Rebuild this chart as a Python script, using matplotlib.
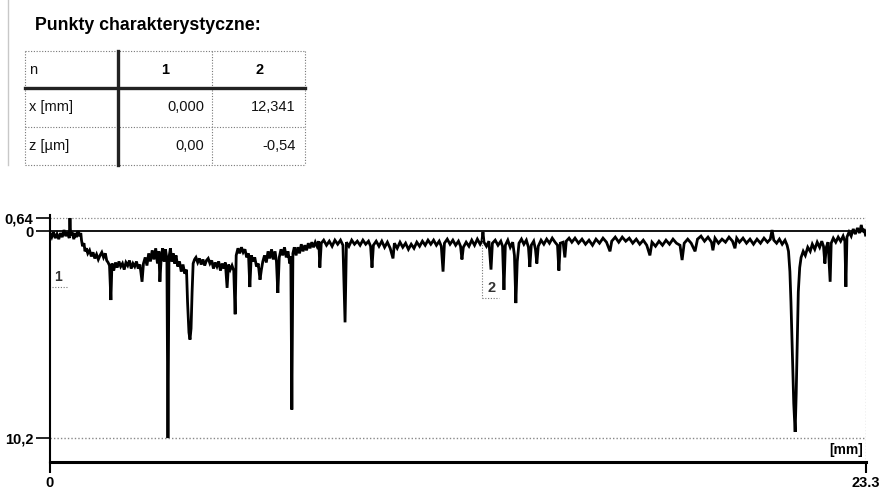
import matplotlib
matplotlib.use("Agg")
import matplotlib.pyplot as plt

plt.rcParams['font.family'] = ['Liberation Sans', 'DejaVu Sans']

# ---------------- data ----------------
title = "Punkty charakterystyczne:"
table_rows = [["n", "1", "2"],
              ["x [mm]", "0,000", "12,341"],
              ["z [µm]", "0,00", "-0,54"]]
point_x = [0.000, 12.341]          # mm
point_labels = ["1", "2"]

x_range = [0.0, 23.3]              # mm
y_ticks = [0.64, 0.0, -10.2]       # µm
y_tick_labels = ["0,64", "0", "10,2"]
x_ticks = [0.0, 23.3]
x_tick_labels = ["0", "23.3"]

# profile (x in mm, z in µm)
prof_x = [
    0.00, 0.05, 0.10, 0.15, 0.20, 0.25, 0.30, 0.35, 0.40, 0.45, 0.50, 0.55, 0.57, 0.59, 0.63, 0.68, 0.72, 0.76, 0.80, 0.84, 0.88, 0.90,
    0.93, 0.97, 1.00, 1.04, 1.08, 1.13, 1.18, 1.23, 1.28, 1.33, 1.38, 1.43, 1.48, 1.53, 1.58, 1.62, 1.66,
    1.70, 1.74, 1.77, 1.82, 1.87, 1.92, 1.97, 2.02, 2.07, 2.12, 2.17, 2.22, 2.27, 2.32, 2.37, 2.42, 2.47, 2.52, 2.57, 2.63, 2.67,
    2.72, 2.77, 2.82, 2.87, 2.92, 2.97, 3.02, 3.07, 3.11, 3.14, 3.18, 3.22, 3.26, 3.30, 3.34, 3.37, 3.40, 3.44, 3.48, 3.52, 3.56, 3.60,
    3.65, 3.70, 3.75, 3.80, 3.85, 3.90, 3.93, 3.97, 4.00, 4.03, 4.06, 4.09, 4.13, 4.17,
    4.22, 4.27, 4.32, 4.37, 4.42, 4.47, 4.52, 4.57, 4.62, 4.67, 4.72, 4.77, 4.82, 4.87, 4.92, 4.97, 5.01, 5.06, 5.10, 5.15,
    5.20, 5.25, 5.29, 5.32, 5.37, 5.42, 5.47, 5.52, 5.57, 5.62, 5.67, 5.71, 5.75, 5.80, 5.85, 5.90, 5.95, 6.00, 6.04, 6.08,
    6.13, 6.18, 6.23, 6.28, 6.33, 6.38, 6.43, 6.47, 6.51, 6.55, 6.60, 6.65, 6.70, 6.75, 6.80, 6.85, 6.88, 6.91, 6.94, 6.98,
    7.03, 7.08, 7.13, 7.18, 7.23, 7.28, 7.33, 7.38, 7.43, 7.48, 7.53, 7.58, 7.63, 7.68, 7.71, 7.75, 7.82, 7.90, 7.98, 8.06,
    8.14, 8.22, 8.30, 8.37, 8.43, 8.47, 8.54, 8.62, 8.70, 8.78, 8.86, 8.94, 9.02, 9.10, 9.16, 9.20, 9.24, 9.32,
    9.40, 9.48, 9.56, 9.64, 9.72, 9.80, 9.84, 9.92, 10.00, 10.08, 10.16, 10.24, 10.32, 10.40, 10.48, 10.56, 10.64, 10.72, 10.80, 10.88,
    10.96, 11.04, 11.12, 11.18, 11.23, 11.27, 11.35, 11.43, 11.51, 11.59, 11.67, 11.73, 11.77, 11.81, 11.89, 11.97, 12.05, 12.13, 12.21, 12.29,
    12.34, 12.37, 12.40, 12.47, 12.54, 12.60, 12.64, 12.72, 12.80, 12.88, 12.93, 12.97, 13.01, 13.08, 13.15, 13.22, 13.27, 13.31, 13.35, 13.40,
    13.47, 13.54, 13.61, 13.67, 13.71, 13.75, 13.82, 13.87, 13.91, 13.95, 14.03, 14.11, 14.19, 14.27, 14.35, 14.43, 14.50, 14.54, 14.58, 14.66,
    14.71, 14.75, 14.83, 14.91,
    15.00, 15.10, 15.20, 15.30, 15.40, 15.50, 15.60, 15.70, 15.80, 15.90, 16.00, 16.05, 16.15, 16.25, 16.35, 16.45, 16.55, 16.65, 16.75, 16.85,
    16.95, 17.05, 17.14, 17.20, 17.30, 17.40, 17.50, 17.60, 17.70, 17.80, 17.90, 18.00, 18.06, 18.12, 18.22, 18.32, 18.43, 18.50, 18.60, 18.70,
    18.80, 18.90, 18.94, 19.00, 19.10, 19.20, 19.30, 19.40, 19.50, 19.57, 19.62, 19.70, 19.80, 19.90, 20.00, 20.10, 20.20, 20.30, 20.40, 20.50,
    20.58, 20.63, 20.68, 20.76, 20.84, 20.92, 21.00, 21.06,
    21.10, 21.14, 21.17, 21.21, 21.25, 21.29, 21.32, 21.35, 21.38, 21.42, 21.46,
    21.52, 21.58, 21.65, 21.72, 21.78, 21.85, 21.92, 21.99, 22.05, 22.10, 22.14, 22.18, 22.23, 22.29, 22.32, 22.38, 22.45, 22.52, 22.59, 22.66,
    22.71, 22.74, 22.77, 22.83, 22.89, 22.95, 23.01, 23.07, 23.13, 23.18, 23.22, 23.26, 23.30,
]
prof_z = [
    -0.10, -0.30, -0.05, -0.35, -0.15, -0.40, -0.10, -0.30, 0.05, -0.25, -0.05, -0.35, 0.64, -0.20, -0.05, -0.40, -0.10, -0.30, 0.00, -0.25, -0.10, -0.45,
    -0.75, -0.60, -1.00, -0.85, -1.10, -0.95, -1.25, -1.05, -1.35, -1.15, -1.40, -1.20, -1.05, -1.30, -1.10, -1.45, -1.55,
    -1.70, -3.40, -1.60, -1.95, -1.55, -1.80, -1.50, -1.75, -1.60, -1.90, -1.55, -1.70, -1.45, -1.85, -1.60, -1.75, -1.50, -1.85, -1.65, -2.50, -1.60,
    -1.30, -1.70, -1.10, -1.50, -0.95, -1.40, -0.85, -1.60, -1.00, -2.50, -1.20, -0.85, -1.50, -0.90, -1.40, -10.20, -1.30, -0.85, -1.50, -1.10, -1.60, -1.20,
    -1.75, -1.50, -2.00, -1.65, -2.10, -1.90, -3.50, -5.00, -5.35, -4.80, -3.00, -1.60, -1.40, -1.30,
    -1.55, -1.35, -1.65, -1.40, -1.70, -1.45, -1.35, -1.60, -1.45, -1.85, -1.55, -1.75, -1.50, -1.95, -1.60, -1.85, -1.55, -2.80, -1.65, -1.90,
    -1.70, -1.95, -4.10, -1.20, -0.85, -1.10, -0.80, -1.05, -0.90, -1.30, -1.10, -2.76, -1.20, -1.50, -1.30, -1.75, -1.60, -2.40, -1.90, -1.50,
    -1.20, -1.55, -1.00, -1.35, -0.90, -1.40, -1.00, -1.50, -3.05, -1.30, -0.90, -1.20, -0.80, -1.30, -1.00, -1.60, -1.25, -8.80, -1.10, -0.80,
    -1.20, -0.80, -1.10, -0.65, -1.00, -0.70, -0.95, -0.60, -0.85, -0.55, -0.80, -0.55, -0.75, -0.50, -1.80, -0.60, -0.45, -0.70, -0.50, -0.75,
    -0.45, -0.65, -0.45, -0.70, -4.50, -0.55, -0.75, -0.45, -0.65, -0.50, -0.70, -0.45, -0.65, -0.50, -0.75, -1.80, -0.70, -0.50,
    -0.75, -0.50, -0.80, -0.55, -0.85, -1.35, -0.60, -0.85, -0.55, -0.80, -0.60, -0.90, -0.65, -0.85, -0.55, -0.75, -0.50, -0.70, -0.45, -0.65,
    -0.45, -0.70, -0.50, -0.75, -2.00, -0.60, -0.40, -0.65, -0.45, -0.70, -0.50, -0.75, -1.40, -0.80, -0.55, -0.75, -0.45, -0.70, -0.40, -0.65,
    -0.50, -0.05, -0.55, -0.75, -0.50, -1.90, -0.60, -0.45, -0.70, -0.50, -0.75, -2.90, -0.70, -0.45, -0.80, -0.55, -1.20, -3.55, -1.50, -0.60,
    -0.40, -0.65, -0.45, -0.80, -1.77, -0.70, -0.50, -0.90, -1.60, -0.75, -0.45, -0.65, -0.40, -0.60, -0.35, -0.55, -0.70, -1.95, -0.60, -0.55,
    -1.30, -0.50, -0.35, -0.55,
    -0.35, -0.60, -0.40, -0.65, -0.45, -0.70, -0.40, -0.60, -0.35, -0.55, -1.00, -0.50, -0.30, -0.55, -0.30, -0.50, -0.35, -0.60, -0.40, -0.65,
    -0.45, -0.70, -1.20, -0.55, -0.75, -0.50, -0.70, -0.45, -0.65, -0.40, -0.60, -0.70, -1.43, -0.60, -0.40, -0.60, -1.00, -0.40, -0.25, -0.50,
    -0.30, -0.55, -0.95, -0.35, -0.60, -0.40, -0.55, -0.30, -0.50, -0.85, -0.35, -0.55, -0.35, -0.60, -0.40, -0.65, -0.40, -0.60, -0.35, -0.55,
    -0.40, 0.05, -0.45, -0.60, -0.40, -0.65, -0.45, -0.70,
    -1.00, -2.00, -3.50, -6.00, -8.50, -9.90, -8.00, -5.50, -3.00, -1.80, -1.30,
    -1.00, -1.20, -0.80, -1.00, -0.65, -0.90, -0.55, -0.80, -0.50, -0.75, -1.60, -0.80, -0.55, -2.50, -0.60, -0.35, -0.55, -0.30, -0.50, -0.25,
    -0.50, -2.75, -0.30, -0.05, -0.25, 0.10, -0.15, 0.15, -0.10, 0.30, -0.05, 0.10, -0.20,
]

# ---------------- figure ----------------
W, H = 884, 491
fig = plt.figure(figsize=(W / 100, H / 100), dpi=100)

# overlay in pixel coordinates for title & table
bg = fig.add_axes([0, 0, 1, 1])
bg.set_xlim(0, W)
bg.set_ylim(H, 0)
bg.axis("off")

bg.plot([8, 8], [0, 165], color="#c8c8c8", lw=1)
bg.text(35, 25, title, fontsize=12.8, fontweight="bold", ha="left", va="center")

tl, tr, tt, tb = 25, 305, 51, 165
c1, c2 = 118, 212
r1, r2 = 88, 127
dot = dict(color="#777777", lw=0.8, ls=(0, (1, 1.5)))
bg.plot([tl, tr], [tt, tt], **dot)
bg.plot([tl, tr], [tb, tb], **dot)
bg.plot([tl, tl], [tt, tb], **dot)
bg.plot([tr, tr], [tt, tb], **dot)
bg.plot([c2, c2], [tt, tb], **dot)
bg.plot([tl, tr], [r2, r2], **dot)
bg.plot([tl, tr], [r1, r1], color="#222222", lw=2.4)
bg.plot([c1, c1], [tt, tb], color="#222222", lw=2.4)

row_y = [70, 107, 146]
for ri, row in enumerate(table_rows):
    y = row_y[ri]
    bg.text(29, y, row[0], fontsize=10.5, ha="left", va="center", color="#111111")
    if ri == 0:
        bg.text(165, y, row[1], fontsize=10.5, fontweight="bold", ha="center", va="center")
        bg.text(260, y, row[2], fontsize=10.5, fontweight="bold", ha="center", va="center")
    else:
        bg.text(204, y, row[1], fontsize=10.5, ha="right", va="center", color="#111111")
        bg.text(296, y, row[2], fontsize=10.5, ha="right", va="center", color="#111111")

# profile axes
y_bottom, y_top = -11.38, 0.79
ax = fig.add_axes([50 / W, (H - 462) / H, (865.5 - 50) / W, 247 / H])
ax.set_facecolor("none")
ax.set_xlim(*x_range)
ax.set_ylim(y_bottom, y_top)

for s in ("top", "right"):
    ax.spines[s].set_visible(False)
ax.spines["left"].set_linewidth(1.5)
ax.spines["bottom"].set_linewidth(2.2)

ax.set_yticks(y_ticks)
ax.set_yticklabels(y_tick_labels)
ax.set_xticks(x_ticks)
ax.set_xticklabels(x_tick_labels)
ax.tick_params(axis="y", length=10, width=1.2, pad=2, labelsize=10.5)
ax.tick_params(axis="x", length=8, width=1.5, pad=2, labelsize=10.5)
for lab in ax.get_yticklabels() + ax.get_xticklabels():
    lab.set_fontweight("bold")

# reference lines
ax.plot(x_range, [0, 0], color="black", lw=1.3)
ax.plot(x_range, [y_ticks[0], y_ticks[0]], color="#888888", lw=0.9, ls=(0, (1, 1.5)))
ax.plot(x_range, [y_ticks[2], y_ticks[2]], color="#888888", lw=1.0, ls=(0, (1, 1.5)))
ax.plot([x_range[1], x_range[1]], [y_bottom, y_top], color="#888888", lw=0.9, ls=(0, (1, 1.5)))

# profile
ax.plot(prof_x, prof_z, color="black", lw=2.0, solid_joinstyle="miter")

# characteristic points
ax.text(point_x[0] + 0.23, -2.27, point_labels[0], fontsize=10, fontweight="bold",
        ha="center", va="center", color="#333333")
ax.plot([point_x[0] + 0.06, point_x[0] + 0.51], [-2.76, -2.76], color="#777777", lw=0.8, ls=(0, (1, 1.5)))
ax.plot([point_x[1], point_x[1]], [-0.4, -3.3], color="#777777", lw=0.8, ls=(0, (1, 1.5)))
ax.plot([point_x[1], point_x[1] + 0.5], [-3.3, -3.3], color="#777777", lw=0.8, ls=(0, (1, 1.5)))
ax.text(point_x[1] + 0.28, -2.8, point_labels[1], fontsize=10.5, fontweight="bold",
        ha="center", va="center", color="#333333")

ax.text(22.75, -10.8, "[mm]", fontsize=10, fontweight="bold", ha="center", va="center")

fig.savefig("out.png", dpi=100)
